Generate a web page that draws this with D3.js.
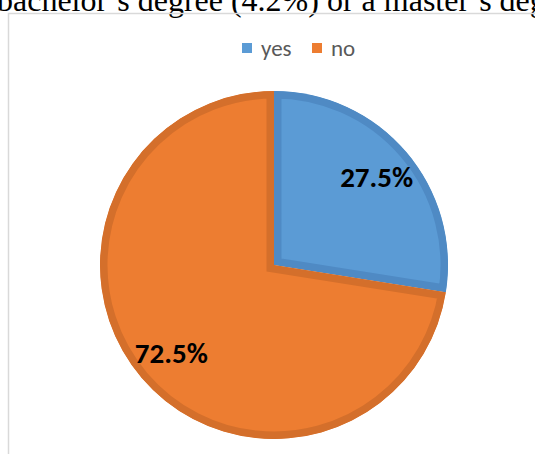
<!DOCTYPE html>
<html>
<head>
<meta charset="utf-8">
<script src="https://cdn.jsdelivr.net/npm/d3@7/dist/d3.min.js"></script>
<style>
  html, body { margin: 0; padding: 0; background: #fff; overflow: hidden; }
  svg { display: block; }
</style>
</head>
<body>
<svg id="chart" width="535" height="454"></svg>
<script>
// Survey answers
const categories = ["yes", "no"];
const values = [27.5, 72.5];
const fills = ["#5B9BD5", "#ED7D31"];
const edges = ["#4F8AC4", "#D46F2B"];

const svg = d3.select("#chart");

// Running text above the chart frame (cut by the page edge)
svg.append("text")
  .attr("x", -3)
  .attr("y", 11)
  .attr("font-family", "Liberation Serif, Times New Roman, serif")
  .attr("font-size", 32)
  .attr("fill", "#000")
  .text("bachelor’s degree (4.2%) or a master’s degree");

// Chart frame
svg.append("rect")
  .attr("x", 8.5).attr("y", 13.5)
  .attr("width", 600).attr("height", 500)
  .attr("fill", "none")
  .attr("stroke", "#D9D9D9")
  .attr("stroke-width", 1.5);

// Legend
const legend = svg.append("g").attr("font-family", "Carlito, Calibri, 'Open Sans', sans-serif");
const legendX = [242, 312];
categories.forEach((c, i) => {
  legend.append("rect")
    .attr("x", legendX[i]).attr("y", 43)
    .attr("width", 10).attr("height", 10)
    .attr("fill", fills[i]);
  legend.append("text")
    .attr("x", legendX[i] + 19).attr("y", 56)
    .attr("font-size", 23)
    .attr("fill", "#595959")
    .text(c);
});

// Pie
const cx = 274, cy = 265, r = 174;
const pie = d3.pie().sort(null).value(d => d)(values);
const arc = d3.arc().innerRadius(0).outerRadius(r);
const labelArc = d3.arc().innerRadius(135).outerRadius(135);

const g = svg.append("g").attr("transform", `translate(${cx},${cy})`);
const defs = svg.append("defs");

pie.forEach((p, i) => {
  const id = "slice-clip-" + i;
  defs.append("clipPath").attr("id", id)
    .append("path").attr("d", arc(p));
  g.append("path")
    .attr("d", arc(p))
    .attr("fill", fills[i])
    .attr("stroke", edges[i])
    .attr("stroke-width", 15)
    .attr("stroke-linejoin", "miter")
    .attr("clip-path", `url(#${id})`);
});

// Value labels
pie.forEach((p, i) => {
  const [x, y] = labelArc.centroid(p);
  g.append("text")
    .attr("x", x).attr("y", y)
    .attr("text-anchor", "middle")
    .attr("dominant-baseline", "central")
    .attr("font-family", "Carlito, Calibri, 'Open Sans', sans-serif")
    .attr("font-weight", "bold")
    .attr("font-size", 29)
    .attr("fill", "#000")
    .text(values[i].toFixed(1) + "%");
});
</script>
</body>
</html>
